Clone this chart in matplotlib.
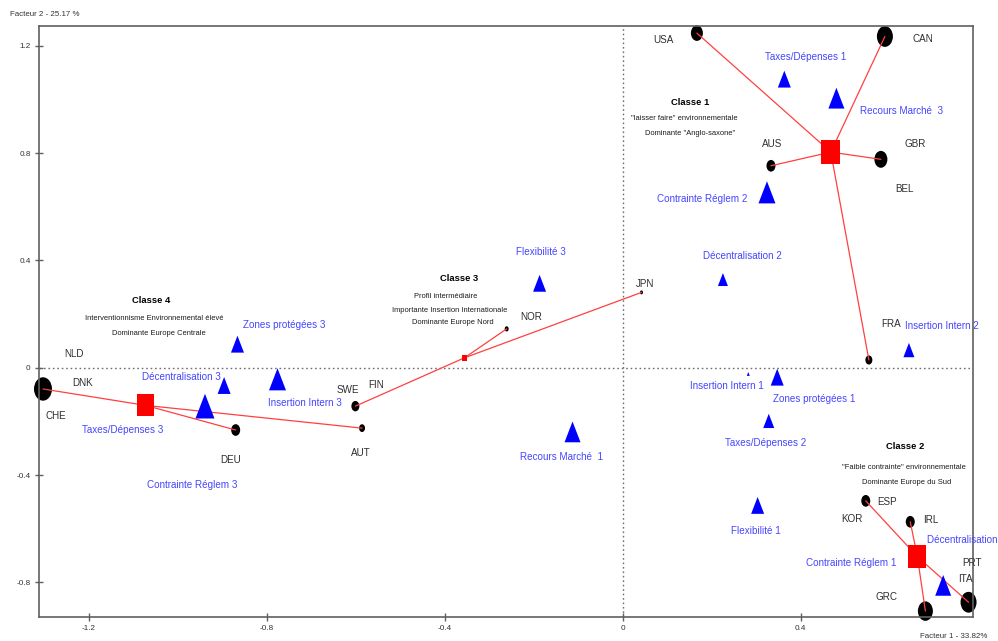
import matplotlib
matplotlib.use("Agg")
import matplotlib.pyplot as plt
from matplotlib import font_manager
from matplotlib.markers import MarkerStyle
from matplotlib.transforms import Affine2D

# Prefer a narrow sans-serif when one is available
_names = {f.name for f in font_manager.fontManager.ttflist}
if "Liberation Sans Narrow" in _names:
    plt.rcParams["font.family"] = ["Liberation Sans Narrow", "DejaVu Sans"]
    FS = 1.0
else:
    plt.rcParams["font.family"] = ["Liberation Sans", "DejaVu Sans"]
    FS = 0.84

# ---- Countries (factor 1, factor 2) and relative marker weight ----
countries = ["USA", "CAN", "AUS", "GBR", "FRA", "JPN", "NOR", "SWE", "AUT",
             "CHE", "DEU", "ESP", "IRL", "GRC", "ITA"]
country_x = [0.1665, 0.589, 0.333, 0.580, 0.553, 0.042, -0.261, -0.601, -0.586,
             -1.303, -0.870, 0.546, 0.646, 0.680, 0.777]
country_y = [1.2475, 1.235, 0.753, 0.777, 0.029, 0.281, 0.145, -0.143, -0.225,
             -0.079, -0.232, -0.496, -0.574, -0.907, -0.874]
country_weight = [12, 16, 9, 13, 7, 3, 4, 8, 6, 18, 9, 9, 9, 15, 16]

# Country labels (some countries share a position with another point)
clabel_text = ["USA", "CAN", "AUS", "GBR", "BEL", "FRA", "JPN", "NOR", "SWE", "FIN",
               "AUT", "NLD", "DNK", "CHE", "DEU", "ESP", "KOR", "IRL", "PRT", "ITA", "GRC"]
clabel_x = [0.092, 0.674, 0.335, 0.658, 0.634, 0.602, 0.049, -0.207, -0.617, -0.555,
            -0.588, -1.234, -1.213, -1.274, -0.882, 0.593, 0.516, 0.692, 0.784, 0.769, 0.593]
clabel_y = [1.222, 1.225, 0.834, 0.834, 0.666, 0.163, 0.312, 0.190, -0.081, -0.064,
            -0.316, 0.051, -0.056, -0.180, -0.344, -0.499, -0.564, -0.568, -0.729, -0.788, -0.854]

# ---- Modalities of the active variables ----
mod_x = [0.363, 0.480, 0.324, 0.225, -0.187, -0.866, -0.896, -0.776, -0.939,
         -0.113, 0.282, 0.347, 0.328, 0.303, 0.643, 0.720]
mod_y = [1.076, 1.005, 0.654, 0.329, 0.315, 0.088, -0.066, -0.043, -0.143,
         -0.239, -0.023, -0.035, -0.198, -0.513, 0.066, -0.811]
mod_weight = [13, 16, 17, 10, 13, 13, 13, 17, 19, 16, 3, 13, 11, 13, 11, 16]

mlabel_text = ["Taxes/Dépenses 1", "Recours Marché  3", "Contrainte Réglem 2",
               "Décentralisation 2", "Flexibilité 3", "Zones protégées 3",
               "Décentralisation 3", "Insertion Intern 3", "Taxes/Dépenses 3",
               "Contrainte Réglem 3", "Recours Marché  1", "Insertion Intern 1",
               "Zones protégées 1", "Taxes/Dépenses 2", "Flexibilité 1",
               "Insertion Intern 2", "Contrainte Réglem 1", "Décentralisation 1"]
mlabel_x = [0.411, 0.627, 0.178, 0.268, -0.184, -0.762, -0.992, -0.715, -1.124,
            -0.967, -0.138, 0.233, 0.429, 0.321, 0.300, 0.716, 0.514, 0.684]
mlabel_y = [1.158, 0.957, 0.629, 0.416, 0.430, 0.158, -0.036, -0.131, -0.232,
            -0.437, -0.332, -0.067, -0.117, -0.282, -0.608, 0.155, -0.729, -0.642]
mlabel_ha = ["center"] * 17 + ["left"]

# ---- Clusters: centre, weight, members and description ----
class_x = [0.4674, 0.662, -0.356, -1.073]
class_y = [0.804, -0.704, 0.037, -0.140]
class_weight = [19, 18, 5, 17]
class_members = [["USA", "CAN", "AUS", "GBR", "FRA"],
                 ["ESP", "IRL", "GRC", "ITA"],
                 ["JPN", "NOR", "SWE"],
                 ["CHE", "DEU", "AUT"]]
class_title = ["Classe 1", "Classe 2", "Classe 3", "Classe 4"]
class_title_xy = [(0.151, 0.990), (0.635, -0.292), (-0.368, 0.332), (-1.059, 0.252)]
class_desc = [['"laisser faire" environnementale', 'Dominante "Anglo-saxone"'],
              ['"Faible contrainte" environnementale', 'Dominante Europe du Sud'],
              ['Profil intermédiaire', 'Importante Insertion Internationale',
               'Dominante Europe Nord'],
              ['Interventionnisme Environnemental élevé', 'Dominante Europe Centrale']]
class_desc_xy = [[(0.139, 0.931), (0.151, 0.875)],
                 [(0.631, -0.373), (0.637, -0.429)],
                 [(-0.398, 0.265), (-0.389, 0.215), (-0.383, 0.168)],
                 [(-1.053, 0.184), (-1.043, 0.128)]]

x_ticks = [-1.2, -0.8, -0.4, 0, 0.4]
y_ticks = [-0.8, -0.4, 0, 0.4, 0.8, 1.2]

# ---------------------------------------------------------------------------
W, H = 998, 641
fig = plt.figure(figsize=(W / 100, H / 100), dpi=100)
ax = fig.add_axes([39 / W, 1 - 617 / H, (973 - 39) / W, (617 - 26) / H])
ax.set_xlim(-1.312, 0.787)
ax.set_ylim(-0.929, 1.274)

PX2PT = 0.72
stretch = Affine2D().scale(1.0, 1.3)

# zero axes
ax.axhline(0, color="#707070", lw=1.0, ls=(0, (1.2, 2.0)), zorder=1)
ax.axvline(0, color="#707070", lw=1.0, ls=(0, (1.2, 2.0)), zorder=1)

# countries
ax.scatter(country_x, country_y, s=[(w * PX2PT) ** 2 for w in country_weight],
           marker=MarkerStyle("o", transform=stretch), color="black",
           linewidths=0, zorder=2, clip_on=False)

# links from each cluster centre to its members
pos = {c: (x, y) for c, x, y in zip(countries, country_x, country_y)}
for cx, cy, members in zip(class_x, class_y, class_members):
    for m in members:
        mx, my = pos[m]
        ax.plot([cx, mx], [cy, my], color="#ff4040", lw=0.9, zorder=3,
                solid_capstyle="round")

# cluster centres
ax.scatter(class_x, class_y, s=[(w * PX2PT) ** 2 for w in class_weight],
           marker=MarkerStyle("s", transform=stretch), color="red",
           linewidths=0, zorder=4)

# modalities
ax.scatter(mod_x, mod_y, s=[(w * PX2PT) ** 2 for w in mod_weight],
           marker=MarkerStyle("^", transform=stretch), color="#0000ff",
           linewidths=0, zorder=4)

# labels
for t, x, y in zip(clabel_text, clabel_x, clabel_y):
    ax.text(x, y, t, fontsize=8.5 * FS, color="#2e2e2e", ha="center", va="center",
            zorder=5, clip_on=False)
for t, x, y, ha in zip(mlabel_text, mlabel_x, mlabel_y, mlabel_ha):
    ax.text(x, y, t, fontsize=8.5 * FS, color="#4545ff", ha=ha, va="center",
            zorder=5, clip_on=False)
for t, (tx, ty), lines, xys in zip(class_title, class_title_xy, class_desc, class_desc_xy):
    ax.text(tx, ty, t, fontsize=8.0 * FS, fontweight="bold", color="black",
            ha="center", va="center", zorder=5)
    for line, (lx, ly) in zip(lines, xys):
        ax.text(lx, ly, line, fontsize=6.4 * FS, color="#1a1a1a", ha="center",
                va="center", zorder=5)

# frame and ticks
for side in ["left", "bottom", "top", "right"]:
    ax.spines[side].set_color("#606060")
    ax.spines[side].set_linewidth(1.2)
ax.set_xticks(x_ticks)
ax.set_xticklabels(["-1.2", "-0.8", "-0.4", "0", "0.4"])
ax.set_yticks(y_ticks)
ax.set_yticklabels(["-0.8", "-0.4", "0", "0.4", "0.8", "1.2"])
ax.tick_params(direction="inout", length=6, width=1, color="#606060",
               labelsize=7 * FS, labelcolor="#333333", pad=3)

fig.text(10 / W, 1 - 15 / H, "Facteur 2 - 25.17 %", fontsize=6.8 * FS, color="#333333",
         ha="left", va="center")
fig.text(920 / W, 1 - 637 / H, "Facteur 1 - 33.82%", fontsize=6.8 * FS, color="#333333",
         ha="left", va="center")

fig.savefig("out.png", dpi=100, facecolor="white")
